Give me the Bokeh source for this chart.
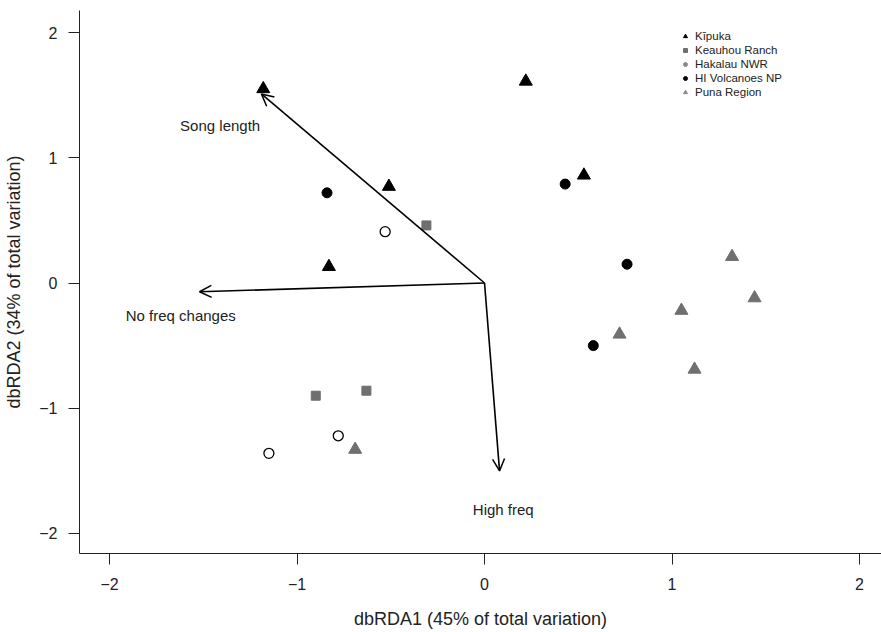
from bokeh.plotting import figure
from bokeh.models import (ColumnDataSource, Arrow, OpenHead, Legend, LegendItem,
                          Range1d, FixedTicker)
from bokeh.core.properties import value
from bokeh.embed import file_html
from bokeh.resources import INLINE

FONT = "Liberation Sans"

# --- data (site scores) ---
kipuka_x = [-1.18, 0.22, -0.51, 0.53, -0.83]
kipuka_y = [1.55, 1.61, 0.77, 0.86, 0.13]

keauhou_x = [-0.31, -0.90, -0.63]
keauhou_y = [0.46, -0.90, -0.86]

hakalau_x = [-0.53, -0.78, -1.15]
hakalau_y = [0.41, -1.22, -1.36]

volcanoes_x = [-0.84, 0.43, 0.76, 0.58]
volcanoes_y = [0.72, 0.79, 0.15, -0.50]

puna_x = [-0.69, 0.72, 1.05, 1.32, 1.44, 1.12]
puna_y = [-1.33, -0.41, -0.22, 0.21, -0.12, -0.69]

# --- vectors (biplot arrows) ---
vec_names = ["Song length", "No freq changes", "High freq"]
vec_x = [-1.19, -1.52, 0.08]
vec_y = [1.51, -0.07, -1.50]
lab_x = [-1.41, -1.62, 0.10]
lab_y = [1.26, -0.26, -1.81]

ticks = [-2, -1, 0, 1, 2]
site_names = ["Kīpuka", "Keauhou Ranch", "Hakalau NWR", "HI Volcanoes NP", "Puna Region"]

BLACK = "#000000"
GREY = "#6f6f6f"
LGREY = "#8a8a8a"

p = figure(width=881, height=632, output_backend="svg", toolbar_location=None,
           x_range=Range1d(-2.16, 2.117), y_range=Range1d(-2.16, 2.176),
           min_border_left=79, min_border_right=0, min_border_top=10,
           min_border_bottom=79)
p.outline_line_color = None
p.xgrid.visible = False
p.ygrid.visible = False
p.background_fill_color = "white"

for ax in (p.xaxis[0], p.yaxis[0]):
    ax.ticker = FixedTicker(ticks=ticks)
    ax.axis_line_color = "#222222"
    ax.axis_line_width = 1
    ax.major_tick_line_color = "#222222"
    ax.major_tick_out = 11
    ax.major_tick_in = 0
    ax.minor_tick_line_color = None
    ax.major_label_text_font = FONT
    ax.major_label_text_font_size = "16px"
    ax.major_label_text_color = "#222222"
    ax.axis_label_text_font = FONT
    ax.axis_label_text_font_size = "18px"
    ax.axis_label_text_font_style = "normal"
    ax.axis_label_text_color = "#222222"

p.xaxis.axis_label = "dbRDA1 (45% of total variation)"
p.yaxis.axis_label = "dbRDA2 (34% of total variation)"
p.xaxis.major_label_standoff = 13
p.xaxis.axis_label_standoff = 16
p.yaxis.major_label_standoff = 11
p.yaxis.axis_label_standoff = 12

# arrows
arr_src = ColumnDataSource(dict(x0=[0.0] * len(vec_x), y0=[0.0] * len(vec_y),
                                x1=vec_x, y1=vec_y))
p.add_layout(Arrow(end=OpenHead(size=12, line_width=1.5, line_color=BLACK),
                   x_start="x0", y_start="y0", x_end="x1", y_end="y1",
                   source=arr_src, line_width=1.6, line_color=BLACK))

p.text(x=lab_x, y=lab_y, text=vec_names, text_font=value(FONT),
       text_font_size="15px", text_align="center", text_baseline="middle",
       text_color="#222222")

# site points
p.scatter(kipuka_x, kipuka_y, marker="triangle", size=13, fill_color=BLACK, line_color=BLACK)
p.scatter(keauhou_x, keauhou_y, marker="square", size=9, fill_color=GREY, line_color=GREY)
p.scatter(hakalau_x, hakalau_y, marker="circle", size=10, fill_color="white",
          line_color=BLACK, line_width=1.3)
p.scatter(volcanoes_x, volcanoes_y, marker="circle", size=10, fill_color=BLACK, line_color=BLACK)
p.scatter(puna_x, puna_y, marker="triangle", size=13, fill_color=GREY, line_color=GREY)

# legend-only glyphs (placed outside the visible range)
leg_specs = [("triangle", 10, BLACK), ("square", 8, GREY), ("circle", 8, LGREY),
             ("circle", 8, BLACK), ("triangle", 10, LGREY)]
items = []
for name, (mk, sz, col) in zip(site_names, leg_specs):
    r = p.scatter(x=[99], y=[99], marker=mk, size=sz, fill_color=col, line_color=col)
    items.append(LegendItem(label=name, renderers=[r]))

legend = Legend(items=items, location=(601, 455), label_text_font=FONT,
                label_text_font_size="11.5px", label_text_color="#222222",
                glyph_width=10, glyph_height=12, label_height=12, label_standoff=5,
                spacing=2, padding=3, margin=0, border_line_color=None,
                background_fill_alpha=0)
p.add_layout(legend, "center")

open("out.html", "w").write(file_html(p, INLINE))
